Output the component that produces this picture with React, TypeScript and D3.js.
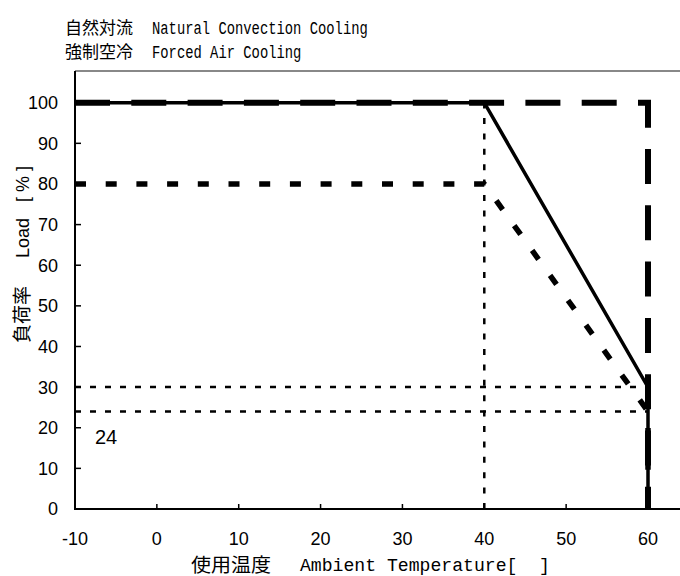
import React from 'react';
import * as d3 from 'd3';

// axis ticks
const xTicks = [ -10, 0, 10, 20, 30, 40, 50, 60 ];
const yTicks = [ 0, 10, 20, 30, 40, 50, 60, 70, 80, 90, 100 ];

// derating curves (temperature -> load %)
const naturalTemp = [ -10, 40, 60, 60 ];
const naturalLoad = [ 100, 100, 30, 0 ];
const forcedTemp = [ -10, 60, 60 ];
const forcedLoad = [ 100, 100, 0 ];
const reducedTemp = [ -10, 40, 60, 60 ];
const reducedLoad = [ 80, 80, 24, 0 ];

// guide lines
const guideLoads = [ 30, 24 ];
const guideTemp = 40;
const noteLabel = '24';

const legendJa = [ '自然対流', '強制空冷' ];
const legendEn = [ 'Natural Convection Cooling', 'Forced Air Cooling' ];

const W = 680,
	H = 576;

const sans = '"Liberation Sans", Arial, sans-serif';
const mono = '"Liberation Mono", "DejaVu Sans Mono", monospace';
const cjk = '"Noto Sans CJK JP", sans-serif';

const App = () => {
	const x = d3.scaleLinear().domain( [ -10, 60 ] ).range( [ 75, 648 ] ),
		y = d3.scaleLinear().domain( [ 0, 100 ] ).range( [ 509, 102.7 ] ),
		line = d3
			.line<[ number, number ]>()
			.x( ( d ) => x( d[ 0 ] ) )
			.y( ( d ) => y( d[ 1 ] ) ),
		pts = ( t: number[], l: number[] ) => t.map( ( v, i ) => [ v, l[ i ] ] as [ number, number ] );

	const top = 71;

	return (
		<svg
			width={W}
			height={H}
			style={{ position: 'absolute', left: 0, top: 0, background: '#fff' }}
		>
			{/* legend text */}
			{legendJa.map( ( t, i ) => (
				<g key={t}>
					<text x={65} y={34 + i * 24} fontFamily={cjk} fontSize={17} fill="#000">
						{t}
					</text>
					<text
						x={152}
						y={34 + i * 24}
						fontFamily={mono}
						fontSize={19}
						textLength={legendEn[ i ].length * 8.3}
						lengthAdjust="spacingAndGlyphs"
						fill="#000"
					>
						{legendEn[ i ]}
					</text>
				</g>
			) )}

			{/* frame */}
			<line x1={75} x2={W} y1={top} y2={top} stroke="#888" strokeWidth={2} />
			<line x1={75} x2={75} y1={top} y2={y( 0 ) + 1} stroke="#000" strokeWidth={2} />
			<line x1={74} x2={W} y1={y( 0 )} y2={y( 0 )} stroke="#000" strokeWidth={2} />

			{yTicks.map( ( t ) => (
				<g key={'y' + t}>
					<line x1={75} x2={81} y1={y( t )} y2={y( t )} stroke="#000" strokeWidth={1.5} />
					<text
						x={58}
						y={y( t )}
						dy="0.36em"
						textAnchor="end"
						fontFamily={sans}
						fontSize={18}
						fill="#000"
					>
						{t}
					</text>
				</g>
			) )}
			{xTicks.map( ( t ) => (
				<g key={'x' + t}>
					<line x1={x( t )} x2={x( t )} y1={y( 0 )} y2={y( 0 ) - 5} stroke="#000" strokeWidth={1.5} />
					<text x={x( t )} y={545} textAnchor="middle" fontFamily={sans} fontSize={18} fill="#000">
						{t}
					</text>
				</g>
			) )}

			{/* guide lines */}
			{guideLoads.map( ( l ) => (
				<path
					key={'g' + l}
					d={line( [ [ -10, l ], [ 60, l ] ] ) || ''}
					fill="none"
					stroke="#000"
					strokeWidth={2.5}
					strokeDasharray="6 9"
				/>
			) )}
			<path
				d={line( [ [ guideTemp, 0 ], [ guideTemp, 100 ] ] ) || ''}
				fill="none"
				stroke="#000"
				strokeWidth={2.5}
				strokeDasharray="6 9.4"
			/>

			{/* curves */}
			<path
				d={line( pts( forcedTemp, forcedLoad ) ) || ''}
				fill="none"
				stroke="#000"
				strokeWidth={6}
				strokeDasharray="35 21.3"
			/>
			<path d={line( pts( naturalTemp, naturalLoad ) ) || ''} fill="none" stroke="#000" strokeWidth={3.5} />
			<path
				d={line( pts( reducedTemp, reducedLoad ) ) || ''}
				fill="none"
				stroke="#000"
				strokeWidth={5.5}
				strokeDasharray="11 19.7"
			/>

			<text x={95} y={444} fontFamily={sans} fontSize={20} fill="#000">
				{noteLabel}
			</text>

			{/* y axis title */}
			<text transform="translate(29,343) rotate(-90)" fontFamily={cjk} fontSize={19} fill="#000">
				負荷率
			</text>
			<text transform="translate(29,258) rotate(-90)" fontFamily={sans} fontSize={18} fill="#000">
				Load
			</text>
			<text
				transform="translate(29,202) rotate(-90)"
				fontFamily={sans}
				fontSize={18}
				fill="#000"
				style={{ whiteSpace: 'pre' }}
			>
				[ % ]
			</text>

			{/* x axis title */}
			<text
				x={191}
				y={572}
				fontFamily={cjk}
				fontSize={19}
				textLength={80}
				lengthAdjust="spacingAndGlyphs"
				fill="#000"
			>
				使用温度
			</text>
			<text
				x={300}
				y={571}
				fontFamily={mono}
				fontSize={19}
				textLength={250}
				lengthAdjust="spacingAndGlyphs"
				fill="#000"
				style={{ whiteSpace: 'pre' }}
			>
				{'Ambient Temperature[  ]'}
			</text>
		</svg>
	);
};

export default App;
